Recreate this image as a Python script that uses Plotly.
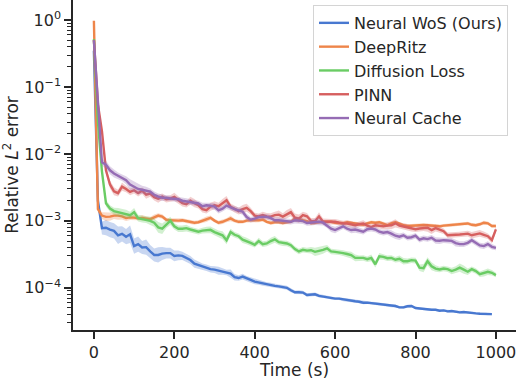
import plotly.graph_objects as go

# time axis (s), one sample every 10 s
time = list(range(0, 1001, 10))

# mean relative L2 error per method (Neural WoS stops at 990 s)
neural_wos = [0.35, 2.0e-3, 7.8e-4, 7.9e-4, 7.4e-4, 7.1e-4, 6.1e-4, 6.4e-4, 5.8e-4, 6.3e-4,
              4.2e-4, 4.5e-4, 4.0e-4, 4.05e-4, 3.5e-4, 3.1e-4, 3.1e-4, 3.25e-4, 3.3e-4, 3.3e-4,
              3.0e-4, 3.05e-4, 3.0e-4, 2.8e-4, 2.6e-4, 2.3e-4, 2.2e-4, 2.07e-4, 2.0e-4, 1.9e-4,
              1.87e-4, 1.8e-4, 1.75e-4, 1.69e-4, 1.63e-4, 1.44e-4, 1.4e-4, 1.47e-4, 1.37e-4, 1.31e-4,
              1.24e-4, 1.2e-4, 1.16e-4, 1.12e-4, 1.1e-4, 1.07e-4, 1.05e-4, 1.03e-4, 1.0e-4, 9.2e-5,
              8.6e-5, 8.6e-5, 8.5e-5, 7.8e-5, 7.9e-5, 8.0e-5, 7.6e-5, 7.4e-5, 7.3e-5, 7.1e-5,
              6.9e-5, 6.9e-5, 6.7e-5, 6.55e-5, 6.4e-5, 6.3e-5, 6.2e-5, 6.0e-5, 6.0e-5, 5.9e-5,
              5.85e-5, 5.7e-5, 5.6e-5, 5.5e-5, 5.4e-5, 5.35e-5, 5.1e-5, 5.1e-5, 5.3e-5, 5.35e-5,
              5.0e-5, 4.9e-5, 4.8e-5, 4.75e-5, 4.7e-5, 4.7e-5, 4.55e-5, 4.6e-5, 4.45e-5, 4.5e-5,
              4.4e-5, 4.3e-5, 4.35e-5, 4.25e-5, 4.2e-5, 4.15e-5, 4.1e-5, 4.1e-5, 4.05e-5, 4.05e-5]

deep_ritz = [0.98, 1.5e-3, 1.2e-3, 1.15e-3, 1.16e-3, 1.2e-3, 1.2e-3, 1.17e-3, 1.1e-3, 1.13e-3,
             1.12e-3, 1.09e-3, 1.11e-3, 1.09e-3, 1.06e-3, 1.13e-3, 1.2e-3, 1.16e-3, 1.04e-3, 1.02e-3,
             1.01e-3, 1.01e-3, 1.02e-3, 1.0e-3, 9.7e-4, 9.4e-4, 9.55e-4, 1.01e-3, 1.06e-3, 1.11e-3,
             1.01e-3, 9.4e-4, 9.7e-4, 1.02e-3, 1.09e-3, 1.01e-3, 9.7e-4, 9.7e-4, 1.01e-3, 1.02e-3,
             1.01e-3, 1.02e-3, 1.05e-3, 9.7e-4, 9.3e-4, 9.55e-4, 9.55e-4, 9.3e-4, 9.55e-4, 9.7e-4,
             1.08e-3, 1.05e-3, 1.02e-3, 9.9e-4, 9.2e-4, 9.4e-4, 9.7e-4, 9.7e-4, 9.7e-4, 9.7e-4,
             9.4e-4, 9.2e-4, 9.2e-4, 9.55e-4, 9.4e-4, 9.15e-4, 8.9e-4, 8.75e-4, 9.2e-4, 9.55e-4,
             9.4e-4, 9.55e-4, 9.1e-4, 8.6e-4, 9.2e-4, 9.55e-4, 9.1e-4, 8.6e-4, 8.4e-4, 8.5e-4,
             8.7e-4, 8.8e-4, 8.7e-4, 8.6e-4, 8.55e-4, 8.4e-4, 8.3e-4, 8.5e-4, 8.6e-4, 8.7e-4,
             8.8e-4, 8.9e-4, 9.1e-4, 9.15e-4, 8.75e-4, 8.6e-4, 8.9e-4, 9.4e-4, 9.2e-4, 8.4e-4,
             8.4e-4]

diffusion_loss = [0.52, 3.0e-2, 5.5e-3, 1.84e-3, 1.53e-3, 1.4e-3, 1.35e-3, 1.3e-3, 1.28e-3, 1.22e-3,
                  1.35e-3, 1.1e-3, 1.06e-3, 1.04e-3, 1.0e-3, 9.4e-4, 8.0e-4, 7.65e-4, 8.9e-4, 1.0e-3,
                  8.3e-4, 7.65e-4, 7.65e-4, 7.8e-4, 7.44e-4, 7.15e-4, 6.9e-4, 7.15e-4, 7.3e-4, 7.35e-4,
                  6.8e-4, 6.4e-4, 6.1e-4, 5.15e-4, 6.8e-4, 6.2e-4, 5.9e-4, 5.25e-4, 5.0e-4, 4.7e-4,
                  4.4e-4, 5.0e-4, 4.5e-4, 4.6e-4, 5.0e-4, 5.3e-4, 4.8e-4, 4.65e-4, 4.6e-4, 4.34e-4,
                  3.8e-4, 3.5e-4, 3.7e-4, 3.6e-4, 3.65e-4, 3.45e-4, 3.55e-4, 3.7e-4, 3.9e-4, 3.5e-4,
                  3.45e-4, 3.4e-4, 3.3e-4, 3.2e-4, 3.08e-4, 2.8e-4, 2.77e-4, 2.8e-4, 2.68e-4, 2.8e-4,
                  2.25e-4, 2.96e-4, 2.9e-4, 2.77e-4, 2.8e-4, 2.63e-4, 2.72e-4, 2.5e-4, 2.5e-4, 2.59e-4,
                  2.55e-4, 2.0e-4, 1.97e-4, 2.5e-4, 2.1e-4, 1.94e-4, 1.88e-4, 1.94e-4, 1.9e-4, 1.78e-4,
                  1.87e-4, 2.0e-4, 1.87e-4, 1.74e-4, 1.9e-4, 1.78e-4, 1.6e-4, 1.66e-4, 1.74e-4, 1.68e-4,
                  1.55e-4]

pinn = [0.5, 5.5e-2, 2.2e-2, 5.7e-3, 3.5e-3, 2.77e-3, 2.6e-3, 3.25e-3, 3.0e-3, 2.71e-3,
        2.87e-3, 2.6e-3, 2.82e-3, 2.46e-3, 2.56e-3, 2.26e-3, 2.14e-3, 2.3e-3, 2.11e-3, 2.16e-3,
        2.28e-3, 2.04e-3, 1.84e-3, 1.77e-3, 2.0e-3, 1.84e-3, 1.71e-3, 1.5e-3, 1.45e-3, 1.63e-3,
        1.71e-3, 1.66e-3, 1.84e-3, 2.04e-3, 1.63e-3, 1.5e-3, 1.4e-3, 1.5e-3, 1.57e-3, 1.4e-3,
        1.2e-3, 1.17e-3, 1.22e-3, 1.17e-3, 1.16e-3, 1.22e-3, 1.24e-3, 1.16e-3, 1.26e-3, 1.35e-3,
        1.12e-3, 1.08e-3, 1.22e-3, 1.17e-3, 1.0e-3, 9.9e-4, 1.17e-3, 9.7e-4, 9.7e-4, 9.7e-4,
        9.7e-4, 9.4e-4, 9.15e-4, 9.15e-4, 8.9e-4, 8.6e-4, 8.9e-4, 9.15e-4, 8.5e-4, 8.1e-4,
        8.6e-4, 8.5e-4, 8.3e-4, 8.5e-4, 8.6e-4, 9.2e-4, 8.5e-4, 8.25e-4, 8.05e-4, 7.65e-4,
        7.5e-4, 7.7e-4, 7.9e-4, 7.9e-4, 7.3e-4, 7.8e-4, 7.4e-4, 7.0e-4, 6.1e-4, 6.1e-4,
        6.15e-4, 6.25e-4, 6.35e-4, 6.45e-4, 6.1e-4, 6.3e-4, 6.5e-4, 6.2e-4, 5.9e-4, 5.15e-4,
        7.45e-4]

neural_cache = [0.5, 5.0e-2, 7.5e-3, 6.9e-3, 5.7e-3, 5.1e-3, 4.7e-3, 4.4e-3, 4.05e-3, 3.5e-3,
                3.25e-3, 3.0e-3, 2.92e-3, 2.82e-3, 2.73e-3, 2.46e-3, 2.3e-3, 2.22e-3, 2.22e-3, 2.16e-3,
                2.14e-3, 2.11e-3, 2.0e-3, 1.95e-3, 1.92e-3, 1.87e-3, 1.82e-3, 1.66e-3, 1.71e-3, 1.69e-3,
                1.64e-3, 1.44e-3, 1.52e-3, 1.69e-3, 1.57e-3, 1.5e-3, 1.44e-3, 1.37e-3, 1.14e-3, 1.04e-3,
                1.08e-3, 1.14e-3, 1.15e-3, 1.15e-3, 1.1e-3, 1.02e-3, 1.02e-3, 1.01e-3, 9.8e-4, 9.7e-4,
                1.02e-3, 1.01e-3, 9.9e-4, 9.3e-4, 9.4e-4, 9.7e-4, 9.7e-4, 9.4e-4, 8.6e-4, 7.65e-4,
                7.3e-4, 7.8e-4, 8.3e-4, 7.65e-4, 7.3e-4, 7.44e-4, 7.15e-4, 6.9e-4, 7.5e-4, 7.65e-4,
                7.44e-4, 6.9e-4, 6.65e-4, 6.8e-4, 6.45e-4, 6.0e-4, 5.8e-4, 6.1e-4, 5.6e-4, 5.7e-4,
                6.0e-4, 5.25e-4, 5.5e-4, 5.35e-4, 5.6e-4, 5.1e-4, 5.06e-4, 5.15e-4, 5.1e-4, 5.03e-4,
                4.65e-4, 4.5e-4, 4.5e-4, 4.7e-4, 5.15e-4, 4.7e-4, 4.3e-4, 4.2e-4, 4.5e-4, 4.1e-4,
                3.95e-4]

# relative spread of the shaded band (upper = v*(1+s), lower = v/(1+s))
wos_spread = [0.05, 0.15, 0.25, 0.3, 0.3, 0.3, 0.35, 0.3, 0.3, 0.35,
              0.3, 0.3, 0.25, 0.3, 0.25, 0.25, 0.3, 0.25, 0.2, 0.2,
              0.2, 0.18, 0.15, 0.15, 0.15, 0.15, 0.12, 0.12, 0.12, 0.12,
              0.12, 0.15, 0.12, 0.1, 0.15, 0.12, 0.1, 0.1, 0.1, 0.1,
              0.1, 0.08, 0.08, 0.08, 0.08, 0.07, 0.07, 0.07, 0.07, 0.07,
              0.06, 0.07, 0.06, 0.06, 0.07, 0.06, 0.06, 0.06, 0.05, 0.06,
              0.05, 0.05, 0.06, 0.05, 0.05, 0.05, 0.05, 0.06, 0.05, 0.05,
              0.05, 0.05, 0.05, 0.04, 0.05, 0.05, 0.04, 0.05, 0.05, 0.04,
              0.04, 0.04, 0.05, 0.04, 0.04, 0.04, 0.04, 0.04, 0.04, 0.04,
              0.04, 0.04, 0.04, 0.04, 0.04, 0.04, 0.04, 0.04, 0.04, 0.04]

ritz_spread = [0.05, 0.1, 0.12, 0.15, 0.15, 0.12, 0.15, 0.12, 0.1, 0.1,
               0.1, 0.08, 0.1, 0.08, 0.08, 0.1, 0.08, 0.08, 0.07, 0.07,
               0.07, 0.08, 0.07, 0.07, 0.08, 0.07, 0.07, 0.08, 0.1, 0.08,
               0.07, 0.07, 0.08, 0.07, 0.1, 0.07, 0.07, 0.06, 0.07, 0.06,
               0.06, 0.07, 0.08, 0.06, 0.07, 0.06, 0.06, 0.07, 0.06, 0.06,
               0.08, 0.1, 0.07, 0.06, 0.06, 0.07, 0.06, 0.06, 0.07, 0.06,
               0.06, 0.06, 0.07, 0.06, 0.06, 0.07, 0.06, 0.06, 0.06, 0.06,
               0.06, 0.06, 0.07, 0.06, 0.06, 0.06, 0.06, 0.06, 0.06, 0.06,
               0.06, 0.06, 0.06, 0.06, 0.06, 0.06, 0.06, 0.06, 0.06, 0.06,
               0.06, 0.06, 0.06, 0.06, 0.06, 0.06, 0.06, 0.07, 0.06, 0.06,
               0.05]

diff_spread = [0.05, 0.1, 0.12, 0.12, 0.12, 0.12, 0.15, 0.15, 0.15, 0.12,
               0.15, 0.12, 0.12, 0.12, 0.15, 0.15, 0.2, 0.2, 0.15, 0.15,
               0.12, 0.12, 0.12, 0.12, 0.1, 0.1, 0.1, 0.1, 0.12, 0.12,
               0.12, 0.12, 0.15, 0.15, 0.12, 0.1, 0.1, 0.12, 0.12, 0.1,
               0.1, 0.12, 0.1, 0.1, 0.12, 0.12, 0.1, 0.1, 0.1, 0.1,
               0.1, 0.1, 0.1, 0.1, 0.12, 0.15, 0.15, 0.15, 0.12, 0.1,
               0.1, 0.1, 0.1, 0.1, 0.12, 0.12, 0.1, 0.1, 0.1, 0.12,
               0.12, 0.12, 0.1, 0.1, 0.1, 0.1, 0.12, 0.12, 0.1, 0.1,
               0.1, 0.12, 0.15, 0.15, 0.15, 0.12, 0.1, 0.1, 0.1, 0.12,
               0.12, 0.15, 0.15, 0.12, 0.1, 0.1, 0.1, 0.12, 0.12, 0.1,
               0.08]

pinn_spread = [0.05, 0.1, 0.12, 0.12, 0.15, 0.15, 0.12, 0.15, 0.12, 0.12,
               0.12, 0.12, 0.12, 0.15, 0.12, 0.12, 0.15, 0.12, 0.12, 0.12,
               0.15, 0.12, 0.12, 0.12, 0.15, 0.15, 0.12, 0.12, 0.12, 0.15,
               0.15, 0.12, 0.15, 0.15, 0.12, 0.12, 0.12, 0.15, 0.15, 0.12,
               0.1, 0.1, 0.12, 0.12, 0.12, 0.12, 0.15, 0.12, 0.15, 0.15,
               0.15, 0.15, 0.12, 0.12, 0.1, 0.12, 0.15, 0.12, 0.1, 0.1,
               0.1, 0.1, 0.1, 0.12, 0.12, 0.1, 0.1, 0.12, 0.1, 0.1,
               0.1, 0.1, 0.12, 0.12, 0.15, 0.15, 0.12, 0.12, 0.12, 0.1,
               0.1, 0.12, 0.12, 0.15, 0.15, 0.12, 0.12, 0.1, 0.1, 0.1,
               0.1, 0.1, 0.1, 0.1, 0.12, 0.12, 0.12, 0.12, 0.1, 0.12,
               0.1]

cache_spread = [0.05, 0.1, 0.12, 0.15, 0.15, 0.15, 0.12, 0.12, 0.15, 0.2,
                0.2, 0.2, 0.15, 0.15, 0.12, 0.12, 0.12, 0.12, 0.1, 0.1,
                0.1, 0.1, 0.12, 0.12, 0.1, 0.1, 0.1, 0.12, 0.1, 0.1,
                0.12, 0.12, 0.1, 0.12, 0.1, 0.1, 0.1, 0.12, 0.12, 0.1,
                0.1, 0.1, 0.1, 0.1, 0.1, 0.1, 0.1, 0.1, 0.1, 0.1,
                0.12, 0.12, 0.1, 0.1, 0.1, 0.12, 0.12, 0.1, 0.1, 0.12,
                0.12, 0.1, 0.1, 0.1, 0.12, 0.12, 0.1, 0.1, 0.1, 0.1,
                0.1, 0.1, 0.1, 0.1, 0.12, 0.12, 0.12, 0.1, 0.1, 0.1,
                0.1, 0.1, 0.1, 0.1, 0.1, 0.12, 0.12, 0.1, 0.1, 0.1,
                0.12, 0.1, 0.1, 0.1, 0.1, 0.1, 0.1, 0.1, 0.1, 0.1,
                0.08]

series = [
    ("Neural WoS (Ours)", neural_wos, wos_spread, "72,120,208"),
    ("DeepRitz", deep_ritz, ritz_spread, "238,133,74"),
    ("Diffusion Loss", diffusion_loss, diff_spread, "106,204,100"),
    ("PINN", pinn, pinn_spread, "214,95,95"),
    ("Neural Cache", neural_cache, cache_spread, "149,108,180"),
]

fig = go.Figure()

for name, vals, spread, rgb in series:
    t = time[:len(vals)]
    upper = [v * (1 + s) for v, s in zip(vals, spread)]
    lower = [v / (1 + s) for v, s in zip(vals, spread)]
    fig.add_trace(go.Scatter(
        x=t + t[::-1], y=upper + lower[::-1],
        fill="toself", fillcolor=f"rgba({rgb},0.3)",
        line=dict(width=0), mode="lines",
        showlegend=False, hoverinfo="skip"))
    fig.add_trace(go.Scatter(
        x=t, y=vals, mode="lines", name=name,
        line=dict(color=f"rgb({rgb})", width=2.4)))

axis_color = "#262626"
major = [1e-4, 1e-3, 1e-2, 1e-1, 1]
major_text = ["10<sup>−4</sup>", "10<sup>−3</sup>", "10<sup>−2</sup>",
              "10<sup>−1</sup>", "10<sup>0</sup>"]
minor_vals = [m * 10.0 ** k for k in range(-5, 1) for m in range(2, 10)]

fig.update_layout(
    width=518, height=380,
    margin=dict(l=73, r=2, t=0, b=50),
    plot_bgcolor="white", paper_bgcolor="white",
    font=dict(family="DejaVu Sans", size=16, color=axis_color),
    showlegend=True,
    legend=dict(x=0.982, y=0.985, xanchor="right", yanchor="top",
                bgcolor="white", bordercolor="#d4d4d4", borderwidth=1,
                font=dict(size=16)),
    xaxis=dict(range=[-52, 1050], tickvals=[0, 200, 400, 600, 800, 1000],
               showline=True, linecolor=axis_color, linewidth=1.5,
               ticks="outside", ticklen=7, tickwidth=1.5, tickcolor=axis_color,
               showgrid=False, zeroline=False,
               title=dict(text="Time (s)", font=dict(size=17), standoff=0)),
    yaxis=dict(type="log", range=[-4.63, 0.3],
               tickvals=major, ticktext=major_text,
               showline=True, linecolor=axis_color, linewidth=1.5,
               ticks="outside", ticklen=7, tickwidth=1.5, tickcolor=axis_color,
               minor=dict(tickvals=minor_vals, ticks="outside", ticklen=4,
                          tickwidth=1, tickcolor=axis_color, showgrid=False),
               showgrid=False, zeroline=False,
               title=dict(text="Relative <i>L</i><sup>2</sup> error",
                          font=dict(size=17), standoff=4)),
)

# drop the browser's default body margin so the figure sits at the page corner
fig.write_html("out.html", config={"displayModeBar": False},
               post_script="document.body.style.margin='0';")
